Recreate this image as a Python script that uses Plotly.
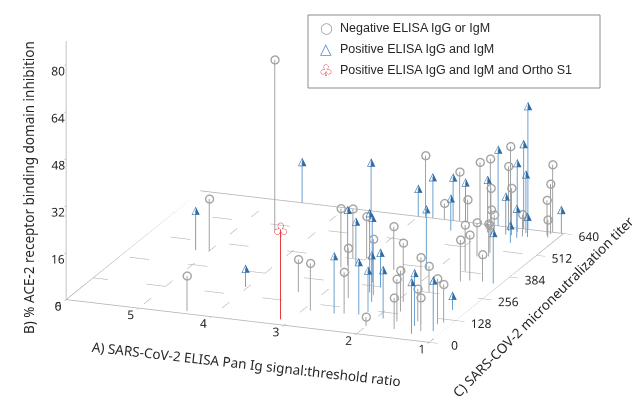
import plotly.graph_objects as go

# A) Pan Ig signal:threshold ratio, C) microneutralization titer, B) % RBD inhibition
neg_ratio = [5.0, 4.38, 4.52, 3.32, 2.9, 2.45, 2.63, 3.17, 3.17, 3.0, 2.37, 2.0, 2.5, 1.91,
             1.8, 1.7, 1.62, 1.45, 1.27, 1.37, 1.74, 1.17, 1.12, 1.63, 1.43, 1.53, 1.26,
             1.7, 1.56, 1.6, 2.64, 2.32, 2.9, 2.43, 2.15, 2.0, 1.95, 1.73, 1.7, 1.6, 1.85,
             1.78, 1.45, 1.15, 1.15, 1.17, 1.13]
neg_titer = [336, 15, 482, 179, 91, 96, 178, 330, 387, 394, 208, 45, 350, 191,
             140, 88, 47, 101, 53, 88, 255, 98, 110, 389, 342, 332, 344,
             470, 477, 497, 640, 640, 640, 640, 640, 640, 620, 640, 620, 600, 590,
             580, 600, 640, 630, 620, 610]
neg_inhib = [17.7, 11.9, 58.0, 11.1, 16.1, 14.1, 17.0, 20.1, 16.7, 14.2, 19.1, 3.1, 14.8, 20.1,
             14.0, 14.4, 10.6, 11.0, 11.3, 22.7, 9.0, 15.5, 13.0, 15.6, 15.5, 14.1, 9.2,
             11.5, 11.1, 9.3, 5.5, 7.7, 21.0, 16.8, 20.9, 12.5, 23.8, 27.5, 22.0, 16.0, 8.5,
             7.5, 7.5, 23.0, 17.0, 12.0, 6.0]

pos_ratio = [5.18, 4.03, 4.6, 3.65, 2.57, 3.12, 3.03, 2.46, 2.57, 2.26, 2.19, 2.29, 2.4,
             1.91, 1.42, 1.34, 1.12, 1.2, 1.1, 1.5, 2.4, 2.8, 3.0, 2.1, 2.52, 2.35, 1.9,
             1.93, 1.55, 1.58, 1.46, 1.68, 1.5, 1.38, 1.49, 1.03]
pos_titer = [333, 173, 640, 640, 90, 345, 353, 221, 272, 100, 120, 172, 252,
             95, 75, 33, 61, 180, 340, 560, 587, 640, 640, 367, 640, 640, 640,
             600, 640, 620, 620, 600, 590, 600, 640, 640]
pos_inhib = [13.4, 6.3, 13.9, 16.5, 19.6, 19.0, 14.8, 27.0, 22.1, 17.9, 14.1, 16.0, 11.9,
             16.5, 18.1, 17.7, 17.2, 4.9, 17.3, 6.0, 11.0, 14.0, 9.5, 20.9, 14.7, 13.5, 26.0,
             18.0, 28.9, 23.5, 20.0, 13.0, 10.0, 7.0, 42.0, 8.0]

ortho_ratio = [3.13]
ortho_titer = [28]
ortho_inhib = [30.6]

ratio_ticks = [1, 2, 3, 4, 5, 6]
titer_ticks = [0, 128, 256, 384, 512, 640]
inhib_ticks = [0, 16, 32, 48, 64, 80]
inhib_max = 88

legend_labels = ["Negative ELISA IgG or IgM",
                 "Positive ELISA IgG and IgM",
                 "Positive ELISA IgG and IgM and Ortho S1"]
title_a = "A) SARS-CoV-2 ELISA Pan Ig signal:threshold ratio"
title_b = "B) % ACE-2 receptor binding domain inhibition"
title_c = "C) SARS-COV-2 microneutralization titer"

GRAY = "#a3a3a3"
BLUE_STEM = "#6ea2d0"
BLUE = "#2f6ca6"
RED = "#e23c46"
FONT = "Noto Sans"
TXT = "#262626"

# the page has an 8px body margin, so paper positions are shifted by that
OFF = 8
W, H = 640, 409


def px(x):
    return (x - OFF) / W


def py(y):
    return 1 - (y - OFF) / H


def stems(xs, ys, zs):
    """x/y/z lists for vertical stems separated by None"""
    sx, sy, sz = [], [], []
    for x, y, z in zip(xs, ys, zs):
        sx += [x, x, None]
        sy += [y, y, None]
        sz += [0, z, None]
    return sx, sy, sz


fig = go.Figure()

# floor grid (dashed) and outline
gx, gy, gz = [], [], []
for r in ratio_ticks[1:-1]:
    gx += [0, 640, None]
    gy += [r, r, None]
    gz += [0, 0, None]
for t in titer_ticks[1:-1]:
    gx += [t, t, None]
    gy += [1, 6, None]
    gz += [0, 0, None]
fig.add_trace(go.Scatter3d(x=gx, y=gy, z=gz, mode="lines",
                           line=dict(color="#b3b3b3", width=1.2, dash="dash"),
                           hoverinfo="skip", showlegend=False))
fig.add_trace(go.Scatter3d(x=[0, 640, 640, 0, 0, None, 0, 0],
                           y=[6, 6, 1, 1, 6, None, 6, 6],
                           z=[0, 0, 0, 0, 0, None, 0, inhib_max],
                           mode="lines", line=dict(color="#b0b0b0", width=1.5),
                           hoverinfo="skip", showlegend=False))

# stems
for xs, ys, zs, col in [(neg_titer, neg_ratio, neg_inhib, GRAY),
                        (pos_titer, pos_ratio, pos_inhib, BLUE_STEM),
                        (ortho_titer, ortho_ratio, ortho_inhib, RED)]:
    sx, sy, sz = stems(xs, ys, zs)
    fig.add_trace(go.Scatter3d(x=sx, y=sy, z=sz, mode="lines",
                               line=dict(color=col, width=2),
                               hoverinfo="skip", showlegend=False))

# markers
fig.add_trace(go.Scatter3d(x=neg_titer, y=neg_ratio, z=neg_inhib, mode="markers",
                           marker=dict(symbol="circle-open", size=5, color=GRAY,
                                       line=dict(width=1.5, color=GRAY)),
                           name=legend_labels[0], showlegend=False))
fig.add_trace(go.Scatter3d(x=pos_titer, y=pos_ratio, z=pos_inhib, mode="text",
                           text=["\u25ee"] * len(pos_titer), textposition="middle center",
                           textfont=dict(color=BLUE, size=11, family="DejaVu Sans"),
                           name=legend_labels[1], showlegend=False))
fig.add_trace(go.Scatter3d(x=ortho_titer, y=ortho_ratio, z=ortho_inhib, mode="text",
                           text=["\u2667"], textposition="middle center",
                           textfont=dict(color=RED, size=19, family="DejaVu Sans"),
                           name=legend_labels[2], showlegend=False))

axis_common = dict(showgrid=False, showbackground=False, zeroline=False, showline=False,
                   showspikes=False, ticks="outside", tickcolor="#999999",
                   tickangle=0, title=dict(text=""),
                   tickfont=dict(family=FONT, size=12, color=TXT))

# camera: view direction (orthographic), eye placed relative to the look-at point
cen = (0.023, -0.060, -0.387)
view = (-0.889, -0.339, 0.309)
dist = 1.5
zoom = 1.9

fig.update_layout(
    width=W, height=H,
    margin=dict(l=0, r=0, t=0, b=0),
    paper_bgcolor="white",
    font=dict(family=FONT, color=TXT),
    scene=dict(
        domain=dict(x=[0, 1], y=[0, 1]),
        xaxis=dict(range=[0, 640], tickvals=titer_ticks, ticklen=5, **axis_common),
        yaxis=dict(range=[1, 6], tickvals=ratio_ticks, ticklen=9, **axis_common),
        zaxis=dict(range=[0, inhib_max], tickvals=inhib_ticks, ticklen=4, **axis_common),
        aspectmode="manual",
        aspectratio=dict(x=0.97 * zoom, y=1.0 * zoom, z=0.70 * zoom),
        camera=dict(projection=dict(type="orthographic"),
                    eye=dict(x=cen[0] + view[0] * dist, y=cen[1] + view[1] * dist,
                             z=cen[2] + view[2] * dist),
                    center=dict(x=cen[0], y=cen[1], z=cen[2]),
                    up=dict(x=0, y=0, z=1)),
    ),
)

# axis titles
title_font = dict(family=FONT, size=13.5, color=TXT)
for txt, x, y, ang in [(title_b, 29, 188, -90), (title_a, 246, 364, 6.4), (title_c, 543, 307, -45)]:
    fig.add_annotation(x=px(x), y=py(y), xref="paper", yref="paper", text=txt,
                       textangle=ang, showarrow=False, font=title_font,
                       xanchor="center", yanchor="middle")

# legend box drawn as paper-space shape + text
fig.add_shape(type="rect", xref="paper", yref="paper", x0=px(308), x1=px(600), y0=py(88), y1=py(15),
              line=dict(color="#8c8c8c", width=1), fillcolor="white")
symbols = [("\u25cb", GRAY, 15), ("\u25b3", "#5b8fc7", 15), ("\u2667", RED, 16)]
for i, (lab, (sym, col, sz)) in enumerate(zip(legend_labels, symbols)):
    yy = py(28 + i * 21)
    fig.add_annotation(x=px(326), y=yy, xref="paper", yref="paper", text=sym,
                       showarrow=False, font=dict(family="DejaVu Sans", size=sz, color=col),
                       xanchor="center", yanchor="middle")
    fig.add_annotation(x=px(338), y=yy, xref="paper", yref="paper", text=lab,
                       showarrow=False, font=dict(family="Liberation Sans", size=12.5, color=TXT),
                       xanchor="left", yanchor="middle")

fig.write_html("out.html")
